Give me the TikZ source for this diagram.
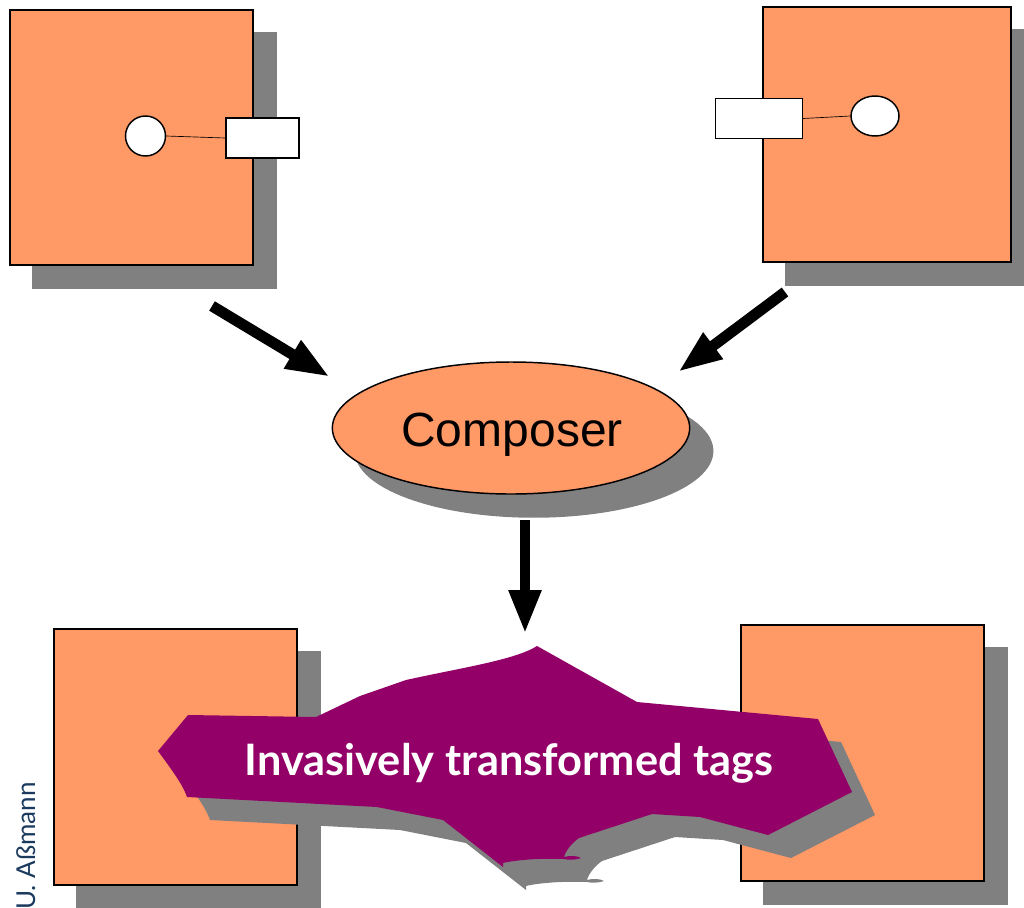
\documentclass[tikz,border=0pt]{standalone}
\usepackage{fontspec}
\setmainfont{Liberation Sans}
\newfontfamily\latofont{Lato}
\usepackage{xcolor}
\usetikzlibrary{arrows.meta, shadows, shapes.geometric}
\definecolor{compOrange}{HTML}{FF9966}
\definecolor{shadowGray}{HTML}{808080}
\definecolor{tagPurple}{HTML}{930067}
\definecolor{nameBlue}{HTML}{1C3A5E}

\begin{document}
\begin{tikzpicture}[x=0.75pt, y=-0.75pt,
        fragshadow/.style={general shadow={shadow xshift=17.25pt, shadow yshift=-17.25pt, fill=shadowGray, draw=shadowGray}},
        frag/.style={draw=black, line width=1.1pt, fill=compOrange, rectangle, inner sep=0pt, fragshadow},
        hook/.style={draw=black, line width=1.1pt, fill=white, rectangle, inner sep=0pt},
        tagdot/.style={draw=black, line width=1.1pt, fill=white, ellipse, inner sep=0pt},
        flow/.style={line width=8.2pt, -{Triangle[length=33pt, width=22.5pt]}}
    ]
        \useasboundingbox (0,0) rectangle (1024,907);
        \def\blobpath{(158,751) -- (188,715) -- (316,717) -- (360,696) -- (406,680)
            .. controls (460,668) and (515,660) .. (537,646)
            -- (637,702) -- (818,719) -- (852,792) -- (768,835) -- (700,817) -- (652,814) -- (579,838)
            .. controls (572,843) and (566,850) .. (564,857)
            .. controls (570,855) and (578,856) .. (581,858)
            .. controls (576,860) and (568,860) .. (564,859)
            .. controls (540,858) and (515,860) .. (503,863)
            -- (503,867) -- (443,820) -- (377,807) -- (187,797)
            .. controls (183,785) and (172,770) .. (158,751) -- cycle}

        \node[frag, minimum width=182.25pt, minimum height=191.25pt] (fragA) at (131.5,137.5) {};
        \node[frag, minimum width=186pt, minimum height=191.25pt] (fragB) at (887,134.5) {};
        \node[frag, minimum width=182.25pt, minimum height=192pt] (fragC) at (175.5,757) {};
        \node[frag, minimum width=182.25pt, minimum height=192pt] (fragD) at (862.5,753) {};

        \node[hook, minimum width=55pt, minimum height=30pt] (hookA) at (262.5,138) {};
        \node[tagdot, minimum width=30pt, minimum height=30pt] (dotA) at (145.5,136) {};
        \draw[line width=0.5pt] (dotA.east)--(hookA.west);

        \node[hook, minimum width=65pt, minimum height=30pt] (hookB) at (759,118.5) {};
        \node[tagdot, minimum width=36pt, minimum height=30pt] (dotB) at (875,116) {};
        \draw[line width=0.5pt] (dotB.west)--(hookB.east);

        \node[draw=black, line width=1.1pt, fill=compOrange, ellipse, inner sep=0pt, fragshadow,
            minimum width=268pt, minimum height=99pt] (composer) at (511,428) {};
        \node[font=\fontsize{36}{36}\selectfont] (composerlabel) at (512,435) {Composer};

        \coordinate (flowAstart) at (212,306);
        \coordinate (flowAend) at (330,377);
        \coordinate (flowBstart) at (785,292);
        \coordinate (flowBend) at (678,372);
        \coordinate (flowCstart) at (525,520);
        \coordinate (flowCend) at (525,634);
        \draw[flow] (flowAstart)--(flowAend);
        \draw[flow] (flowBstart)--(flowBend);
        \draw[flow] (flowCstart)--(flowCend);

        \fill[shadowGray, shift={(23,23)}] \blobpath;
        \fill[tagPurple] \blobpath;
        \node[font=\latofont\bfseries\fontsize{32.5}{32.5}\selectfont, text=white] (taglabel) at (509,763) {Invasively transformed tags};

        \node[font=\latofont\fontsize{19.5}{19.5}\selectfont, text=nameBlue, rotate=90, anchor=west, inner sep=0pt] (author) at (26,910) {U. Aßmann};
    \end{tikzpicture}
\end{document}
